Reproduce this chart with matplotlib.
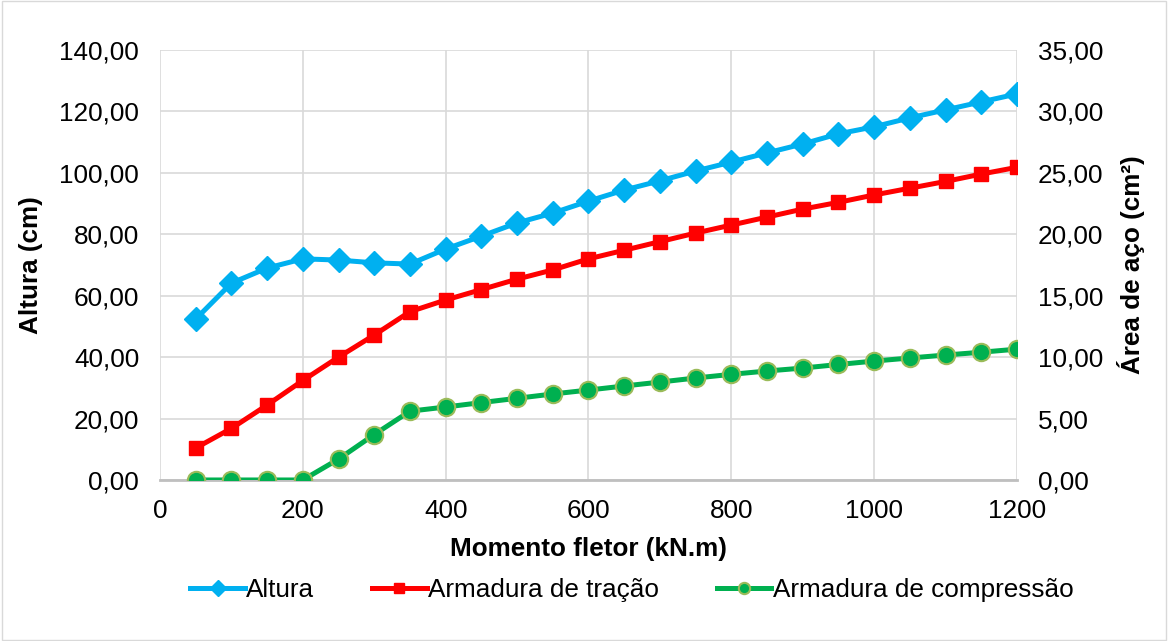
import matplotlib
matplotlib.use("Agg")
import matplotlib.pyplot as plt
from matplotlib.ticker import FuncFormatter, MultipleLocator

plt.rcParams['font.family'] = ['Liberation Sans', 'DejaVu Sans']

momento = [50, 100, 150, 200, 250, 300, 350, 400, 450, 500, 550, 600,
           650, 700, 750, 800, 850, 900, 950, 1000, 1050, 1100, 1150, 1200]
altura = [52.4, 64.1, 69.0, 72.0, 71.6, 70.7, 70.3, 75.2, 79.4, 83.7, 86.9, 90.8,
          94.4, 97.4, 100.6, 103.5, 106.5, 109.4, 112.7, 115.0, 117.9, 120.5, 123.1, 125.7]
tracao = [2.6, 4.2, 6.1, 8.1, 10.0, 11.8, 13.7, 14.65, 15.5, 16.35, 17.1, 18.0,
          18.7, 19.4, 20.1, 20.75, 21.4, 22.05, 22.6, 23.2, 23.75, 24.3, 24.9, 25.45]
compressao = [0.0, 0.0, 0.0, 0.0, 1.7, 3.7, 5.6, 5.94, 6.3, 6.65, 7.0, 7.32,
              7.65, 7.97, 8.3, 8.6, 8.87, 9.11, 9.4, 9.68, 9.93, 10.17, 10.4, 10.65]

FS = 18.8

fig = plt.figure(figsize=(11.68, 6.41), dpi=100)
ax = fig.add_axes([0.137, 0.2512, 0.7337, 0.6708])
ax2 = ax.twinx()

fmt = FuncFormatter(lambda v, p: f"{v:.2f}".replace('.', ','))

l1, = ax.plot(momento, altura, color='#00B0F0', lw=3.6, marker='D', ms=12,
              mfc='#00B0F0', mec='#00B0F0', label='Altura', zorder=3)
l2, = ax2.plot(momento, tracao, color='#FF0000', lw=3.6, marker='s', ms=10,
               mfc='#FF0000', mec='#FF0000', label='Armadura de tração', zorder=3)
l3, = ax2.plot(momento, compressao, color='#00B050', lw=3.6, marker='o', ms=12.5,
               mfc='#00B050', mec='#9BBB59', mew=1.5, label='Armadura de compressão', zorder=3)

ax.set_xlim(0, 1200)
ax.set_ylim(0, 140)
ax2.set_ylim(0, 35)
ax.xaxis.set_major_locator(MultipleLocator(200))
ax.yaxis.set_major_locator(MultipleLocator(20))
ax2.yaxis.set_major_locator(MultipleLocator(5))
ax.yaxis.set_major_formatter(fmt)
ax2.yaxis.set_major_formatter(fmt)

ax.grid(True, color='#D9D9D9', lw=1.2)
ax.set_axisbelow(True)
for a in (ax, ax2):
    for s in a.spines.values():
        s.set_visible(False)
    a.tick_params(length=0, labelsize=FS, colors='#000000', pad=15)
ax.tick_params(axis='x', pad=14)
ax.spines['bottom'].set_visible(True)
ax.spines['bottom'].set_color('#BFBFBF')
ax.spines['bottom'].set_linewidth(2)

ax.set_xlabel('Momento fletor (kN.m)', fontsize=FS, fontweight='bold', labelpad=10)
ax.set_ylabel('Altura (cm)', fontsize=FS, fontweight='bold', labelpad=12)
ax2.set_ylabel('Área de aço (cm²)', fontsize=FS, fontweight='bold', labelpad=10)

fig.legend(handles=[l1, l2, l3], loc='center', bbox_to_anchor=(0.541, 0.079),
           ncol=3, frameon=False, fontsize=FS, handlelength=2.1,
           handletextpad=0.05, columnspacing=2.2, markerscale=0.65)

border = plt.Rectangle((0.002, 0.002), 0.996, 0.996, transform=fig.transFigure,
                       fill=False, edgecolor='#D9D9D9', lw=1)
fig.patches.append(border)

fig.savefig('out.png', dpi=100)
